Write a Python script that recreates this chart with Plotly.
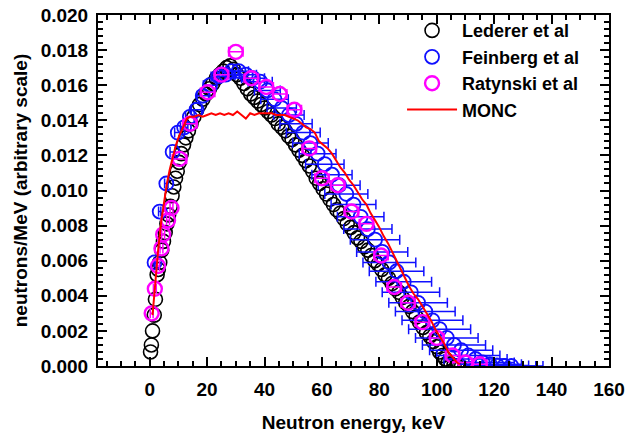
import plotly.graph_objects as go

# Lederer et al spectrum (keV, neutrons/MeV)
lederer_E = [0.3, 0.6, 1.0, 1.6, 2.0, 2.6, 3.0, 3.5, 4.2, 4.8, 5.4, 6.0, 6.6, 7.2, 7.8,
             8.4, 9.0, 9.6, 10.3, 11.0, 11.8, 12.6, 13.5, 14.4, 15.4, 16.4, 17.4, 18.5,
             19.6, 20.8, 22.0, 23.2, 24.4, 25.6, 26.8, 28.0, 29.2, 30.4, 31.6, 32.8, 34.0,
             35.2, 36.4, 37.6, 38.8, 40.0, 41.2, 42.4, 43.6, 44.8, 46.0, 47.2, 48.4, 49.6,
             50.8, 52.0, 53.2, 54.4, 55.6, 56.8, 58.0, 59.2, 60.4, 61.6, 62.8, 64.0, 65.2,
             66.4, 67.6, 68.8, 70.0, 71.2, 72.4, 73.6, 74.8, 76.0, 77.2, 78.4, 79.6, 80.8,
             82.0, 83.2, 84.4, 85.6, 86.8, 88.0, 89.2, 90.4, 91.6, 92.8, 94.0, 95.2, 96.4,
             97.6, 98.8, 100.0, 101.0, 102.0, 103.0, 104.0, 105.0, 106.0, 107.0, 108.0]
lederer_v = [0.0008, 0.0012, 0.0020, 0.0029, 0.0038, 0.0052, 0.0055, 0.0059, 0.0066, 0.0071,
             0.0076, 0.0081, 0.0086, 0.0091, 0.0097, 0.0102, 0.0107, 0.0111, 0.0116, 0.0121,
             0.0126, 0.0130, 0.0134, 0.0138, 0.0142, 0.0146, 0.0149, 0.0152, 0.0155, 0.0158,
             0.0161, 0.0164, 0.0166, 0.0168, 0.0170, 0.0171, 0.0169, 0.0166, 0.0164, 0.0161,
             0.0158, 0.0155, 0.0153, 0.0151, 0.0149, 0.0147, 0.0145, 0.0143, 0.0141, 0.0138,
             0.0136, 0.0134, 0.0131, 0.0129, 0.0126, 0.0123, 0.0120, 0.0117, 0.0114, 0.0111,
             0.0107, 0.0104, 0.0101, 0.0098, 0.0095, 0.0092, 0.0089, 0.0087, 0.0084, 0.0081,
             0.0079, 0.0076, 0.0073, 0.0071, 0.0068, 0.0066, 0.0063, 0.0060, 0.0058, 0.0055,
             0.0052, 0.0050, 0.0047, 0.0044, 0.0042, 0.0039, 0.0036, 0.0034, 0.0031, 0.0028,
             0.0025, 0.0022, 0.0019, 0.0017, 0.0014, 0.0011, 0.0008, 0.0006, 0.0004, 0.0002,
             0.0001, 0.00003, 0.0, 0.0]

# Feinberg et al spectrum with energy uncertainty
feinberg_E = [1.7, 3.5, 5.8, 8.0, 9.8, 12.0, 14.0, 16.3, 18.5, 21.0, 24.0, 26.5, 28.5, 31.0,
              33.5, 36.0, 38.5, 41.0, 43.5, 46.0, 48.5, 51.0, 53.5, 56.0, 58.5, 61.0, 63.5,
              66.0, 68.5, 71.0, 73.5, 76.0, 78.5, 81.0, 83.5, 86.0, 88.5, 91.0, 93.5, 96.0,
              98.5, 101.0, 103.5, 106.0, 108.5, 111.0, 113.5, 116.0, 118.5, 121.0, 123.5, 126.0]
feinberg_v = [0.0059, 0.0088, 0.0104, 0.0122, 0.0133, 0.0136, 0.0142, 0.0146, 0.0154, 0.0160,
              0.0165, 0.0166, 0.0168, 0.0168, 0.0166, 0.0164, 0.0162, 0.0157, 0.0152, 0.0147,
              0.0143, 0.0138, 0.0133, 0.0127, 0.0121, 0.0115, 0.0109, 0.0103, 0.0098, 0.0092,
              0.0085, 0.0078, 0.0072, 0.0065, 0.0059, 0.0054, 0.0048, 0.0042, 0.0036, 0.0031,
              0.0026, 0.0021, 0.0016, 0.0012, 0.0009, 0.0006, 0.0004, 0.0002, 0.0001, 0.00003,
              0.0, 0.0]
feinberg_dE = [0.2, 0.4, 0.6, 0.9, 1.1, 1.3, 1.5, 1.8, 2.0, 2.3, 2.6, 2.9, 3.1, 3.4,
               3.7, 4.0, 4.2, 4.5, 4.8, 5.1, 5.3, 5.6, 5.9, 6.2, 6.4, 6.7, 7.0,
               7.3, 7.5, 7.8, 8.1, 8.4, 8.6, 8.9, 9.2, 9.5, 9.7, 10.0, 10.2, 10.4,
               10.6, 10.8, 10.9, 11.0, 11.0, 11.0, 11.0, 11.0, 11.0, 11.0, 11.0, 11.0]

# Ratynski et al spectrum
ratynski_E = [0.7, 1.8, 2.9, 4.1, 4.7, 6.4, 7.6, 10.4, 14.0, 20.2, 25.0, 30.0, 35.4, 40.6,
              45.3, 50.4, 55.6, 60.0, 65.5, 70.3, 75.5, 80.6, 85.2, 90.0, 95.0, 100.0,
              105.5, 110.0, 115.0]
ratynski_v = [0.0030, 0.0044, 0.0057, 0.0067, 0.0075, 0.0083, 0.0090, 0.0118, 0.0138, 0.0156,
              0.0166, 0.0179, 0.0164, 0.0159, 0.0155, 0.0146, 0.0124, 0.0107, 0.0103, 0.0088,
              0.0081, 0.0063, 0.0045, 0.0036, 0.0025, 0.0016, 0.0006, 0.0002, 0.0001]
ratynski_dE = [0.5, 0.5, 0.5, 0.5, 0.5, 0.5, 0.5, 2.5, 2.5, 2.5, 2.5, 2.5, 2.5, 2.5,
               2.5, 2.5, 2.5, 2.5, 2.5, 2.5, 2.5, 2.5, 2.5, 2.5, 2.5, 2.5, 2.5, 2.5, 2.5]

# MONC calculation
monc_E = [1.0, 2.0, 3.0, 4.0, 5.0, 6.0, 7.0, 8.0, 9.0, 10.0, 11.0, 12.0, 13.0, 14.0,
          15.5, 17.0, 18.5, 20.0, 21.5, 23.0, 24.5, 26.0, 27.5, 29.0, 30.5, 32.0, 33.5,
          35.0, 36.5, 38.0, 39.5, 41.0, 42.5, 44.0, 45.5, 47.0, 48.5, 50.0, 51.5, 53.0,
          54.5, 56.0, 57.5, 59.0, 60.5, 62.0, 63.5, 65.0, 66.5, 68.0, 69.5, 71.0, 72.5,
          74.0, 75.5, 77.0, 78.5, 80.0, 81.5, 83.0, 84.5, 86.0, 87.5, 89.0, 90.5, 92.0,
          93.5, 95.0, 96.5, 98.0, 99.5, 101.0, 102.5, 104.0, 105.5, 107.0, 108.0]
monc_v = [0.0029, 0.0049, 0.0067, 0.0082, 0.0094, 0.0104, 0.0112, 0.0119, 0.0125, 0.0130,
          0.0134, 0.0138, 0.0141, 0.0142, 0.0142, 0.0143, 0.0142, 0.0143, 0.0144, 0.0143,
          0.0144, 0.0143, 0.0144, 0.0143, 0.0145, 0.0143, 0.0141, 0.0144, 0.0143, 0.0144,
          0.0144, 0.0144, 0.0144, 0.0143, 0.0143, 0.0143, 0.0142, 0.0141, 0.0140, 0.0138,
          0.0136, 0.0135, 0.0133, 0.0128, 0.0126, 0.0124, 0.0121, 0.0117, 0.0113, 0.0110,
          0.0106, 0.0103, 0.0099, 0.0095, 0.0092, 0.0087, 0.0083, 0.0079, 0.0074, 0.0070,
          0.0065, 0.0060, 0.0055, 0.0050, 0.0045, 0.0041, 0.0038, 0.0034, 0.0030, 0.0026,
          0.0021, 0.0017, 0.0013, 0.0008, 0.0005, 0.0002, 0.0001]

FONT = "Liberation Sans, Arial, sans-serif"

fig = go.Figure()

fig.add_trace(go.Scatter(
    x=lederer_E, y=lederer_v, mode="markers", name="Lederer et al",
    marker=dict(symbol="circle-open", size=14, color="black", line=dict(width=1.6)),
))
fig.add_trace(go.Scatter(
    x=feinberg_E, y=feinberg_v, mode="markers", name="Feinberg et al",
    marker=dict(symbol="circle-open", size=14, color="#1010ff", line=dict(width=1.8)),
    error_x=dict(type="data", array=feinberg_dE, color="#1010ff", thickness=1.5, width=5),
))
fig.add_trace(go.Scatter(
    x=ratynski_E, y=ratynski_v, mode="markers", name="Ratynski et al",
    marker=dict(symbol="circle-open", size=14, color="#ff00ff", line=dict(width=2.4)),
    error_x=dict(type="data", array=ratynski_dE, color="#ff00ff", thickness=1.5, width=5),
))
fig.add_trace(go.Scatter(
    x=monc_E, y=monc_v, mode="lines", name="MONC",
    line=dict(color="#ff0000", width=2),
))

axis_common = dict(
    showline=True, linecolor="black", linewidth=2, mirror="allticks",
    ticks="inside", ticklen=9, tickwidth=1.5, tickcolor="black",
    showgrid=False, zeroline=False, automargin=False,
    tickfont=dict(family=FONT, size=19, color="black", weight="bold"),
)

fig.update_xaxes(
    range=[-18, 160], dtick=20, tick0=0, ticklabelstandoff=5,
    minor=dict(dtick=5, tick0=0, ticks="inside", ticklen=5, tickwidth=1.5,
               tickcolor="black", showgrid=False),
    title=dict(text="Neutron energy, keV", standoff=17,
               font=dict(family=FONT, size=19, color="black", weight="bold")),
    **axis_common,
)
fig.update_yaxes(
    range=[0, 0.020], dtick=0.002, tick0=0, tickformat=".3f", ticklabelstandoff=4,
    minor=dict(dtick=0.0004, tick0=0, ticks="inside", ticklen=5, tickwidth=1.5,
               tickcolor="black", showgrid=False),
    title=dict(text="neutrons/MeV (arbitrary scale)", standoff=8,
               font=dict(family=FONT, size=19, color="black", weight="bold")),
    **axis_common,
)

fig.update_layout(
    width=627, height=434,
    margin=dict(l=98, r=18, t=13, b=68),
    paper_bgcolor="white", plot_bgcolor="white",
    showlegend=True,
    legend=dict(
        x=0.595, y=1.008, xanchor="left", yanchor="top",
        bgcolor="rgba(0,0,0,0)", borderwidth=0,
        font=dict(family=FONT, size=18, color="black", weight="bold"),
        tracegroupgap=0, itemsizing="trace", itemwidth=50,
    ),
)

fig.write_html("out.html")
